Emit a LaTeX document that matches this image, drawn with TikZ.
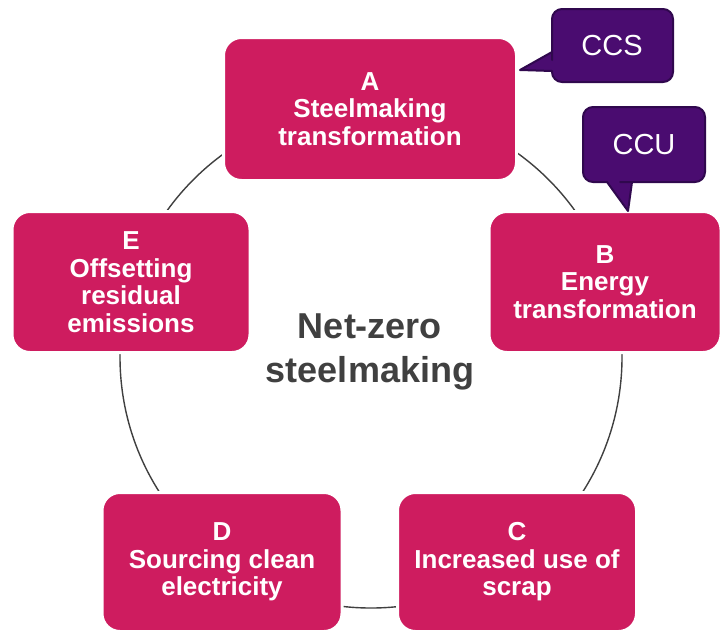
\documentclass[tikz,border=0pt]{standalone}
\usepackage{fontspec}
\setmainfont{Liberation Sans}
\begin{document}
\begin{tikzpicture}[x=1pt,y=-1pt,
  lever/.style={fill=magentabox, draw=white, line width=3pt, rounded corners=18pt,
    text=white, font=\bfseries\fontsize{26}{27.5}\selectfont, align=center,
    inner sep=0pt},
  bubble/.style={fill=purplefill, draw=purpleedge, line width=2pt, line join=round},
  bubbletext/.style={text=white, font=\fontsize{29}{30}\selectfont, inner sep=0pt},
  ring/.style={draw=ringgray, line width=1.4pt}]
\definecolor{magentabox}{RGB}{206,28,95}
\definecolor{purplefill}{RGB}{74,12,112}
\definecolor{purpleedge}{RGB}{48,8,78}
\definecolor{ringgray}{RGB}{64,64,64}
\definecolor{centertext}{RGB}{64,64,64}
\useasboundingbox[fill=white] (0,0) rectangle (722,633);

% the ring linking the five levers
\draw[ring] (371,357) circle[radius=251pt];

% the five levers
\node[lever, minimum width=293pt, minimum height=143pt] (A) at (370,109)
  {A\\Steelmaking\\transformation};
\node[lever, minimum width=232pt, minimum height=141pt] (B) at (605,282)
  {B\\Energy\\transformation};
\node[lever, minimum width=239pt, minimum height=139pt] (C) at (517,562)
  {C\\Increased use of\\scrap};
\node[lever, minimum width=240pt, minimum height=139pt] (D) at (222,562)
  {D\\Sourcing clean\\electricity};
\node[lever, minimum width=238pt, minimum height=141pt] (E) at (131,282)
  {E\\Offsetting\\residual\\emissions};

% centre title
\node[text=centertext, font=\bfseries\fontsize{36}{44}\selectfont, align=center]
  (title) at (370,352) {Net-zero\\steelmaking};

% speech bubbles
\draw[bubble] (552,60) [rounded corners=10pt] -- (552,9) -- (673,9) -- (673,82)
  -- (552,82) [sharp corners] -- (552,71) -- (520,70) -- (552,52) -- cycle;
\node[bubbletext] (ccs) at (612,46) {CCS};
\draw[bubble] (620,182) [rounded corners=10pt] -- (705,182) -- (705,107) -- (583,107)
  -- (583,182) [sharp corners] -- (607,182) -- (628,211) -- (632,182) -- cycle;
\node[bubbletext] (ccu) at (644,145) {CCU};
\end{tikzpicture}
\end{document}
